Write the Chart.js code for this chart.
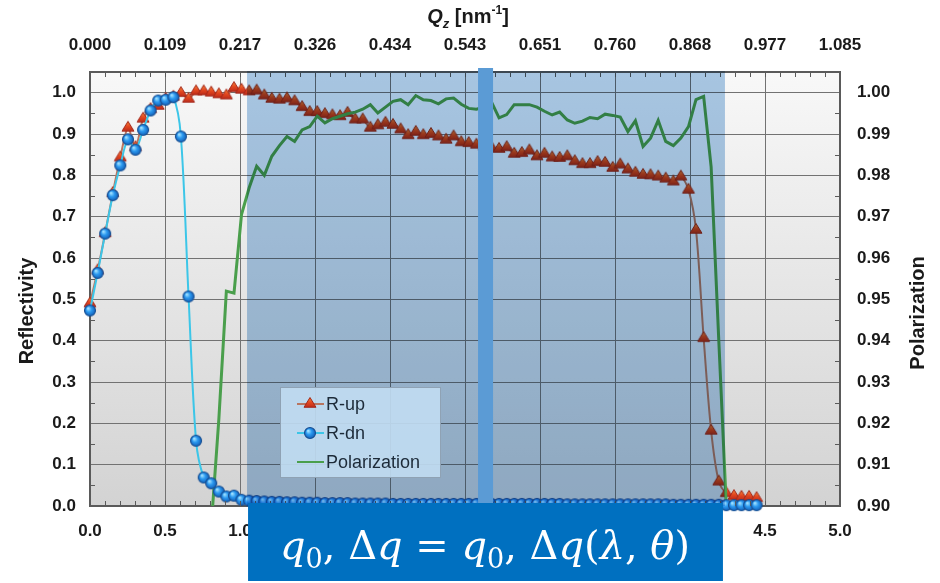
<!DOCTYPE html>
<html>
<head>
<meta charset="utf-8">
<title>Reflectivity and polarization</title>
<script src="https://cdn.jsdelivr.net/npm/chart.js@4.4.1/dist/chart.umd.min.js"></script>
<style>
  html, body { margin: 0; padding: 0; background: #fff; }
  #wrap { width: 940px; height: 583px; }
</style>
</head>
<body>
<div id="wrap"><canvas id="myChart" width="940" height="583"></canvas></div>
<script>
// measured curves
var qz = [
  0.000, 0.051, 0.101, 0.152, 0.202, 0.253, 0.303, 0.354, 0.404, 0.455,
  0.505, 0.556, 0.606, 0.657, 0.707, 0.758, 0.808, 0.859, 0.909, 0.960,
  1.010, 1.061, 1.111, 1.162, 1.212, 1.263, 1.313, 1.364, 1.414, 1.465,
  1.515, 1.566, 1.616, 1.667, 1.717, 1.768, 1.818, 1.869, 1.919, 1.970,
  2.020, 2.071, 2.121, 2.172, 2.222, 2.273, 2.323, 2.374, 2.424, 2.475,
  2.525, 2.576, 2.626, 2.677, 2.727, 2.778, 2.828, 2.879, 2.929, 2.980,
  3.030, 3.081, 3.131, 3.182, 3.232, 3.283, 3.333, 3.384, 3.434, 3.485,
  3.535, 3.586, 3.636, 3.687, 3.737, 3.788, 3.838, 3.889, 3.939, 3.990,
  4.040, 4.091, 4.141, 4.192, 4.242, 4.293, 4.343, 4.394, 4.444
];
var rUp = [
  0.490, 0.570, 0.660, 0.757, 0.843, 0.915, 0.868, 0.937, 0.960, 0.968,
  0.985, 0.990, 0.999, 0.985, 1.003, 1.003, 1.000, 0.996, 0.993, 1.011,
  1.007, 1.003, 1.005, 0.993, 0.985, 0.983, 0.986, 0.979, 0.965, 0.953,
  0.953, 0.948, 0.945, 0.943, 0.951, 0.935, 0.935, 0.915, 0.921, 0.927,
  0.922, 0.911, 0.897, 0.905, 0.897, 0.900, 0.894, 0.886, 0.894, 0.880,
  0.878, 0.874, 0.870, 0.867, 0.864, 0.868, 0.852, 0.854, 0.860, 0.846,
  0.852, 0.843, 0.842, 0.846, 0.834, 0.827, 0.827, 0.832, 0.830, 0.818,
  0.826, 0.814, 0.806, 0.801, 0.800, 0.797, 0.792, 0.785, 0.797, 0.765,
  0.668, 0.406, 0.182, 0.059, 0.031, 0.024, 0.022, 0.022, 0.019
];
var rDn = [
  0.473, 0.564, 0.659, 0.752, 0.824, 0.887, 0.862, 0.910, 0.957, 0.981,
  0.983, 0.989, 0.894, 0.507, 0.158, 0.069, 0.055, 0.035, 0.023, 0.025,
  0.015, 0.013, 0.012, 0.011, 0.010, 0.010, 0.009, 0.009, 0.008, 0.008,
  0.008, 0.007, 0.007, 0.007, 0.007, 0.006, 0.006, 0.006, 0.006, 0.006,
  0.005, 0.005, 0.005, 0.005, 0.005, 0.005, 0.005, 0.005, 0.005, 0.005,
  0.005, 0.005, 0.005, 0.005, 0.005, 0.005, 0.005, 0.005, 0.005, 0.005,
  0.005, 0.005, 0.005, 0.004, 0.004, 0.004, 0.004, 0.004, 0.004, 0.004,
  0.004, 0.004, 0.004, 0.004, 0.004, 0.004, 0.004, 0.003, 0.003, 0.003,
  0.003, 0.003, 0.003, 0.003, 0.002, 0.002, 0.002, 0.002, 0.002
];
var polarization = [
  null, null, null, null, null, null, null, null, null, null,
  null, null, null, null, null, null, 0.8950, 0.9210, 0.9520, 0.9515,
  0.9705, 0.9770, 0.9822, 0.9800, 0.9846, 0.9872, 0.9894, 0.9882, 0.9910, 0.9918,
  0.9943, 0.9927, 0.9937, 0.9943, 0.9949, 0.9953, 0.9960, 0.9971, 0.9951, 0.9965,
  0.9979, 0.9983, 0.9971, 0.9993, 0.9983, 0.9981, 0.9973, 0.9985, 0.9987, 0.9972,
  0.9962, 0.9960, 0.9965, 0.9977, 0.9939, 0.9947, 0.9971, 0.9971, 0.9971, 0.9965,
  0.9955, 0.9946, 0.9953, 0.9934, 0.9926, 0.9931, 0.9940, 0.9937, 0.9948, 0.9945,
  0.9941, 0.9906, 0.9932, 0.9870, 0.9890, 0.9933, 0.9882, 0.9872, 0.9890, 0.9918,
  0.9983, 0.9991, 0.9820, 0.9400, 0.9000, null, null, null, null
];

// axis ticks
var xTicks = [0, 0.5, 1.0, 1.5, 2.0, 2.5, 3.0, 3.5, 4.0, 4.5, 5.0];
var qTickLabels = ['0.000', '0.109', '0.217', '0.326', '0.434', '0.543', '0.651', '0.760', '0.868', '0.977', '1.085'];
var reflTicks = [0, 0.1, 0.2, 0.3, 0.4, 0.5, 0.6, 0.7, 0.8, 0.9, 1.0];
var polTicks = [0.90, 0.91, 0.92, 0.93, 0.94, 0.95, 0.96, 0.97, 0.98, 0.99, 1.00];

// q window of the instrument and the gap between the two detector halves
var windowStart = 1.047, windowEnd = 4.233;
var gapStart = 2.587, gapEnd = 2.687;

Chart.defaults.font.family = "'Liberation Sans', Arial, sans-serif";
var tickFont = { size: 17, weight: 'bold' };
var axisColor = '#5a5a5a';

function pairs(ys) {
  return qz.map(function (x, i) { return { x: x, y: ys[i] }; });
}
function fixedTicks(list) {
  return function (scale) { scale.ticks = list.map(function (v) { return { value: v }; }); };
}

// shaded marker sprites
function ballSprite(r) {
  var c = document.createElement('canvas');
  var s = Math.ceil(r * 2 + 3);
  c.width = c.height = s;
  var g = c.getContext('2d');
  var m = s / 2;
  var grad = g.createRadialGradient(m - r * 0.35, m - r * 0.4, r * 0.1, m, m, r);
  grad.addColorStop(0, '#9fe0ff');
  grad.addColorStop(0.45, '#2c9af0');
  grad.addColorStop(1, '#135fb8');
  g.beginPath();
  g.arc(m, m, r, 0, Math.PI * 2);
  g.fillStyle = grad;
  g.fill();
  g.lineWidth = 1.1;
  g.strokeStyle = '#164f92';
  g.stroke();
  return c;
}
function triangleSprite(r) {
  var c = document.createElement('canvas');
  var s = Math.ceil(r * 2 + 3);
  c.width = c.height = s;
  var g = c.getContext('2d');
  var m = s / 2;
  var h = r * 1.5;
  var grad = g.createLinearGradient(0, m - r, 0, m + r * 0.6);
  grad.addColorStop(0, '#f78a3a');
  grad.addColorStop(0.5, '#e2451f');
  grad.addColorStop(1, '#b92a1a');
  g.beginPath();
  g.moveTo(m, m - r);
  g.lineTo(m + r * 0.92, m - r + h);
  g.lineTo(m - r * 0.92, m - r + h);
  g.closePath();
  g.fillStyle = grad;
  g.fill();
  g.lineWidth = 1;
  g.strokeStyle = '#a2261a';
  g.stroke();
  return c;
}
var ballImg = ballSprite(5.5);
var triImg = triangleSprite(6.5);

var decor = {
  id: 'decor',
  beforeDraw: function (chart) {
    var ctx = chart.ctx, a = chart.chartArea;
    var g = ctx.createLinearGradient(0, a.top, 0, a.bottom);
    g.addColorStop(0, '#f8f8f8');
    g.addColorStop(1, '#d3d3d3');
    ctx.save();
    ctx.fillStyle = g;
    ctx.fillRect(a.left, a.top, a.right - a.left, a.bottom - a.top);
    ctx.restore();
  },
  afterDatasetsDraw: function (chart) {
    var ctx = chart.ctx, a = chart.chartArea, xs = chart.scales.x, ys = chart.scales.y, y2 = chart.scales.y2;
    ctx.save();
    // minor tick marks inside the frame
    ctx.strokeStyle = axisColor;
    ctx.lineWidth = 1;
    ctx.beginPath();
    for (var v = 0.1; v < 5; v += 0.1) {
      var px = Math.round(xs.getPixelForValue(v)) + 0.5;
      ctx.moveTo(px, a.top); ctx.lineTo(px, a.top + 5);
      ctx.moveTo(px, a.bottom); ctx.lineTo(px, a.bottom - 5);
    }
    for (var r = 0.05; r < 1.04; r += 0.1) {
      var py = Math.round(ys.getPixelForValue(r)) + 0.5;
      ctx.moveTo(a.left, py); ctx.lineTo(a.left + 5, py);
    }
    for (var p = 0.905; p < 1.004; p += 0.01) {
      var py2 = Math.round(y2.getPixelForValue(p)) + 0.5;
      ctx.moveTo(a.right, py2); ctx.lineTo(a.right - 5, py2);
    }
    ctx.stroke();

    // shaded q window
    var x1 = xs.getPixelForValue(windowStart), x2 = xs.getPixelForValue(windowEnd);
    ctx.globalCompositeOperation = 'multiply';
    ctx.fillStyle = 'rgb(172,203,232)';
    ctx.fillRect(x1, a.top - 1, x2 - x1, a.bottom - a.top + 1);
    ctx.globalCompositeOperation = 'source-over';

    // detector gap
    var g1 = xs.getPixelForValue(gapStart), g2 = xs.getPixelForValue(gapEnd);
    ctx.fillStyle = '#5b9bd5';
    ctx.fillRect(g1, a.top - 4, g2 - g1, a.bottom - a.top + 2);
    ctx.restore();

    drawLegend(chart);
  },
  afterDraw: function (chart) {
    var ctx = chart.ctx, a = chart.chartArea, xs = chart.scales.x;
    ctx.save();
    ctx.fillStyle = '#1a1a1a';
    ctx.textBaseline = 'middle';
    ctx.textAlign = 'center';
    ctx.font = "bold 20px 'Liberation Sans', Arial, sans-serif";
    ctx.translate(27, (a.top + a.bottom) / 2 + 22);
    ctx.rotate(-Math.PI / 2);
    ctx.fillText('Reflectivity', 0, 0);
    ctx.restore();

    ctx.save();
    ctx.fillStyle = '#1a1a1a';
    ctx.textBaseline = 'middle';
    ctx.textAlign = 'center';
    ctx.font = "bold 20px 'Liberation Sans', Arial, sans-serif";
    ctx.translate(918, (a.top + a.bottom) / 2 + 24);
    ctx.rotate(-Math.PI / 2);
    ctx.fillText('Polarization', 0, 0);
    ctx.restore();

    // top title Q_z [nm^-1]
    drawRuns(ctx, [
      { t: 'Q', f: "italic bold 20px 'Liberation Sans', Arial, sans-serif", dy: 0 },
      { t: 'z', f: "italic bold 13px 'Liberation Sans', Arial, sans-serif", dy: 5 },
      { t: ' [nm', f: "bold 20px 'Liberation Sans', Arial, sans-serif", dy: 0 },
      { t: '-1', f: "bold 12px 'Liberation Sans', Arial, sans-serif", dy: -9 },
      { t: ']', f: "bold 20px 'Liberation Sans', Arial, sans-serif", dy: 0 }
    ], 468, 23, '#1a1a1a', 1);

    // resolution box
    var bx1 = xs.getPixelForValue(windowStart) + 1, bx2 = xs.getPixelForValue(windowEnd) - 2;
    var by = a.bottom - 3;
    ctx.save();
    ctx.fillStyle = '#0070c0';
    ctx.fillRect(bx1, by, bx2 - bx1, 581 - by);
    ctx.restore();
    var it = "italic 40px 'DejaVu Serif', serif", rm = "40px 'DejaVu Serif', serif", sb = "27px 'DejaVu Serif', serif";
    var runs = [
      { t: 'q', f: it, dy: 0 }, { t: '0', f: sb, dy: 9 }, { t: ', ', f: rm, dy: 0 },
      { t: 'Δ', f: rm, dy: 0 }, { t: 'q', f: it, dy: 0 }, { t: ' = ', f: rm, dy: 0 },
      { t: 'q', f: it, dy: 0 }, { t: '0', f: sb, dy: 9 }, { t: ', ', f: rm, dy: 0 },
      { t: 'Δ', f: rm, dy: 0 }, { t: 'q', f: it, dy: 0 }, { t: '(', f: rm, dy: 0 },
      { t: 'λ', f: it, dy: 0 }, { t: ', ', f: rm, dy: 0 }, { t: 'θ', f: it, dy: 0 },
      { t: ')', f: rm, dy: 0 }
    ];
    drawRuns(ctx, runs, 485, 559, '#ffffff', 410);
  }
};

// draws a row of differently styled text pieces centred on cx; squeezed to fit maxW when given
function drawRuns(ctx, runs, cx, baseline, color, maxW) {
  ctx.save();
  ctx.textBaseline = 'alphabetic';
  ctx.textAlign = 'left';
  var total = 0;
  runs.forEach(function (r) { ctx.font = r.f; r.w = ctx.measureText(r.t).width; total += r.w; });
  var k = maxW > 1 && total > maxW ? maxW / total : 1;
  var x = cx - total * k / 2;
  ctx.fillStyle = color;
  ctx.translate(x, baseline);
  ctx.scale(k, 1);
  var off = 0;
  runs.forEach(function (r) {
    ctx.font = r.f;
    ctx.fillText(r.t, off, r.dy);
    off += r.w;
  });
  ctx.restore();
}

function drawLegend(chart) {
  var ctx = chart.ctx, a = chart.chartArea;
  var x0 = a.left + 190, y0 = a.top + 315, w = 160, h = 90;
  ctx.save();
  ctx.fillStyle = 'rgba(192,219,241,0.92)';
  ctx.fillRect(x0, y0, w, h);
  ctx.strokeStyle = '#8fa2b4';
  ctx.lineWidth = 1;
  ctx.strokeRect(x0 + 0.5, y0 + 0.5, w, h);
  chart.data.datasets.forEach(function (ds, i) {
    var cy = y0 + 17 + i * 29;
    ctx.strokeStyle = ds.borderColor;
    ctx.lineWidth = 2;
    ctx.beginPath();
    ctx.moveTo(x0 + 17, cy); ctx.lineTo(x0 + 44, cy);
    ctx.stroke();
    if (ds.pointRadius > 0) {
      Chart.helpers.drawPoint(ctx, { pointStyle: ds.pointStyle, radius: ds.pointRadius, borderWidth: 0, rotation: 0 }, x0 + 30, cy);
    }
    ctx.fillStyle = '#1c2a38';
    ctx.font = "18px 'Liberation Sans', Arial, sans-serif";
    ctx.textBaseline = 'middle';
    ctx.fillText(ds.label, x0 + 46, cy + 1);
  });
  ctx.restore();
}

var ctx = document.getElementById('myChart').getContext('2d');
var myChart = new Chart(ctx, {
  type: 'line',
  data: {
    datasets: [{
      label: 'R-up',
      data: pairs(rUp),
      yAxisID: 'y',
      borderColor: '#b87560',
      borderWidth: 2,
      tension: 0.3,
      pointStyle: triImg,
      pointRadius: 6,
      clip: false,
      order: 2
    }, {
      label: 'R-dn',
      data: pairs(rDn),
      yAxisID: 'y',
      borderColor: '#3cc6e8',
      borderWidth: 2,
      tension: 0.3,
      pointStyle: ballImg,
      pointRadius: 5.5,
      clip: false,
      order: 0
    }, {
      label: 'Polarization',
      data: pairs(polarization),
      yAxisID: 'y2',
      borderColor: '#4a9f4c',
      borderWidth: 3,
      tension: 0,
      pointRadius: 0,
      order: 1
    }]
  },
  options: {
    responsive: false,
    animation: false,
    events: [],
    layout: { padding: 0 },
    plugins: {
      legend: { display: false },
      tooltip: { enabled: false }
    },
    scales: {
      x: {
        type: 'linear', position: 'bottom', min: 0, max: 5,
        afterBuildTicks: fixedTicks(xTicks),
        afterFit: function (s) { s.height = 77; },
        ticks: { font: tickFont, color: '#1a1a1a', padding: 15, callback: function (v) { return v.toFixed(1); } },
        grid: { color: '#727272', lineWidth: 1, drawTicks: false },
        border: { color: axisColor, width: 2 }
      },
      x2: {
        type: 'linear', position: 'top', min: 0, max: 5,
        afterBuildTicks: fixedTicks(xTicks),
        afterFit: function (s) { s.height = 72; },
        ticks: { font: tickFont, color: '#1a1a1a', padding: 16, callback: function (v, i) { return qTickLabels[i]; } },
        grid: { display: false, drawTicks: false },
        border: { color: axisColor, width: 2 }
      },
      y: {
        type: 'linear', position: 'left', min: 0, max: 1.05,
        afterBuildTicks: fixedTicks(reflTicks),
        afterFit: function (s) { s.width = 90; },
        ticks: { font: tickFont, color: '#1a1a1a', padding: 14, callback: function (v) { return v.toFixed(1); } },
        grid: { color: '#727272', lineWidth: 1, drawTicks: false },
        border: { color: axisColor, width: 2 }
      },
      y2: {
        type: 'linear', position: 'right', min: 0.9, max: 1.005,
        afterBuildTicks: fixedTicks(polTicks),
        afterFit: function (s) { s.width = 100; },
        ticks: { font: tickFont, color: '#1a1a1a', padding: 17, callback: function (v) { return v.toFixed(2); } },
        grid: { display: false, drawTicks: false },
        border: { color: axisColor, width: 2 }
      }
    }
  },
  plugins: [decor]
});
</script>
</body>
</html>
